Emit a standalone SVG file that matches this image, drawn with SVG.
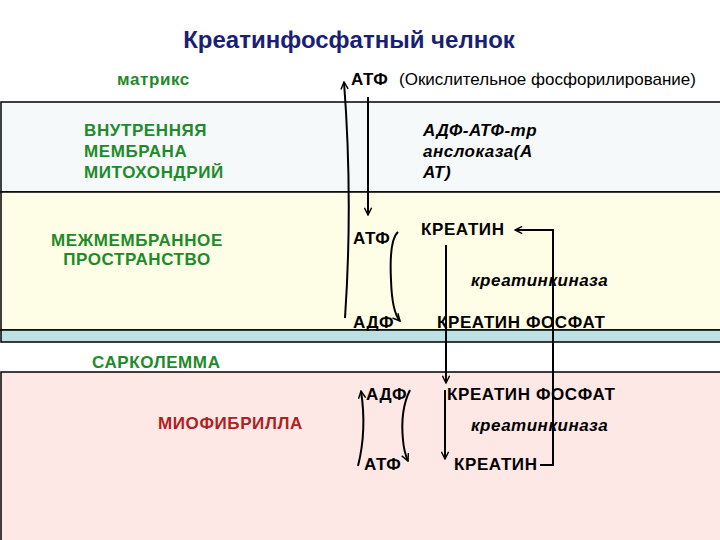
<svg xmlns="http://www.w3.org/2000/svg" width="720" height="540" viewBox="0 0 720 540">
<style>
.band{stroke:#000;stroke-width:1.5}
.t{font-family:"Liberation Sans",Arial,sans-serif;font-weight:bold;font-size:17px;letter-spacing:0.6px;fill:#000}
.g{fill:#1f8a2a}
.it{font-style:italic;letter-spacing:0.5px}
.n{font-weight:normal;letter-spacing:0}
.c{fill:none;stroke:#000;stroke-width:2}
</style>
<defs>
<marker id="ah" viewBox="0 0 10 10" refX="9" refY="5" markerWidth="9" markerHeight="9" markerUnits="userSpaceOnUse" orient="auto">
<path d="M1,1 L9,5 L1,9" fill="none" stroke="#000" stroke-width="1.6"/>
</marker>
</defs>
<rect width="720" height="540" fill="#fff"/>
<g id="bands">
<rect class="band" x="1" y="102" width="730" height="90" fill="#f5f9fa"/>
<rect class="band" x="1" y="192" width="730" height="138" fill="#fefee6"/>
<rect class="band" x="1" y="330" width="730" height="12" fill="#bde0e4"/>
<rect class="band" x="1" y="372" width="730" height="180" fill="#fde8e6"/>
</g>
<text x="349" y="48" text-anchor="middle" style="font-family:'Liberation Sans',Arial,sans-serif;font-weight:bold;font-size:24px;fill:#1a1f75">Креатинфосфатный челнок</text>
<g id="labels">
<text class="t g" x="117" y="85">матрикс</text>
<text class="t g" x="84" y="136">ВНУТРЕННЯЯ</text>
<text class="t g" x="84" y="157">МЕМБРАНА</text>
<text class="t g" x="84" y="178">МИТОХОНДРИЙ</text>
<text class="t g" x="137" y="246" text-anchor="middle">МЕЖМЕМБРАННОЕ</text>
<text class="t g" x="137" y="265" text-anchor="middle">ПРОСТРАНСТВО</text>
<text class="t g" x="92" y="368">САРКОЛЕММА</text>
<text class="t" x="158" y="429" style="fill:#b0201e">МИОФИБРИЛЛА</text>
</g>
<g id="n-atp-matrix"><text class="t" x="351" y="85">АТФ</text></g>
<g id="n-oxphos"><text class="t n" x="399" y="85">(Окислительное фосфорилирование)</text></g>
<g id="n-ant">
<text class="t it" x="423" y="136">АДФ-АТФ-тр</text>
<text class="t it" x="423" y="157">анслоказа(А</text>
<text class="t it" x="423" y="178">АТ)</text>
</g>
<g id="n-atp-ims"><text class="t" x="353" y="244">АТФ</text></g>
<g id="n-creatine-ims"><text class="t" x="421" y="235">КРЕАТИН</text></g>
<g id="n-ck-ims"><text class="t it" x="471" y="286">креатинкиназа</text></g>
<g id="n-adp-ims"><text class="t" x="353" y="328">АДФ</text></g>
<g id="n-pcr-ims"><text class="t" x="437" y="328">КРЕАТИН ФОСФАТ</text></g>
<g id="n-adp-myo"><text class="t" x="366" y="400">АДФ</text></g>
<g id="n-pcr-myo"><text class="t" x="447" y="400">КРЕАТИН ФОСФАТ</text></g>
<g id="n-ck-myo"><text class="t it" x="471" y="431">креатинкиназа</text></g>
<g id="n-atp-myo"><text class="t" x="364" y="470">АТФ</text></g>
<g id="n-creatine-myo"><text class="t" x="454" y="470">КРЕАТИН</text></g>
<g id="connectors">
<path class="c" d="M345,318 Q353,200 344,82" marker-end="url(#ah)"/>
<path class="c" d="M368,97 L368,215" marker-end="url(#ah)"/>
<path class="c" d="M398,232 Q389,240 391,280 Q392,312 400,321" marker-end="url(#ah)"/>
<path class="c" d="M446,245 L446,383" marker-end="url(#ah)"/>
<path class="c" d="M540,465 L553,465 L553,230 L515,230" marker-end="url(#ah)"/>
<path class="c" d="M445,390 L445,459" marker-end="url(#ah)"/>
<path class="c" d="M358,466 Q367,430 361,391" marker-end="url(#ah)"/>
<path class="c" d="M410,390 Q400,410 403,440 Q404,452 408,461" marker-end="url(#ah)"/>
</g>
</svg>
